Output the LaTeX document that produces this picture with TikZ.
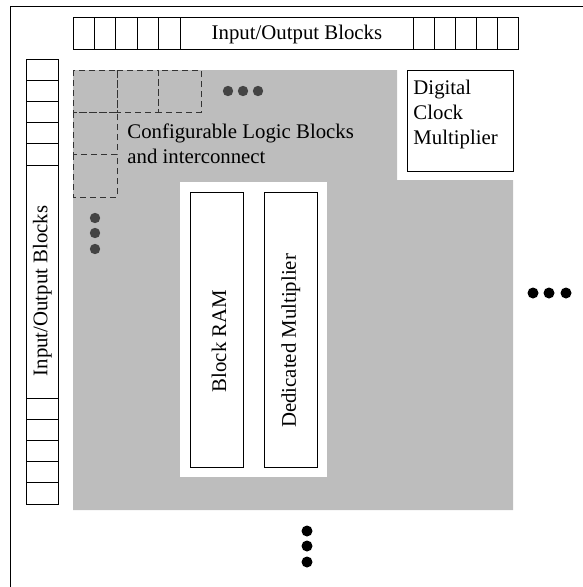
\documentclass[tikz,border=0pt]{standalone}
\usepackage{fontspec}
\setmainfont{Liberation Serif}
\definecolor{fpgagray}{RGB}{189,189,189}
\definecolor{dotgray}{RGB}{68,68,68}
\begin{document}
\begin{tikzpicture}[x=1pt,y=-1pt,line width=0.9pt,
  txt/.style={font=\fontsize{20.8}{25}\selectfont,inner sep=0pt},
  box/.style={draw,line width=0.9pt,inner sep=0pt,anchor=north west},
  clb/.style={draw=black!80,dash pattern=on 6pt off 4pt,line width=1pt},
  dotc/.style={fill=dotgray,draw=none},
  dotk/.style={fill=black,draw=none}]
\useasboundingbox (0,0) rectangle (582,587);
% outer frame
\draw (10,600) -- (10,6) -- (600,6);
% gray fabric
\fill[fpgagray] (73,70) -- (397,70) -- (397,180) -- (513,180) -- (513,510) -- (73,510) -- cycle;
% top IO blocks
\foreach \i in {0,...,4} \draw (73+\i*21.4,17) rectangle ++(21.4,32);
\foreach \i in {0,...,4} \draw (413+\i*21,17) rectangle ++(21,32);
\node[box,minimum width=233pt,minimum height=32pt] (topio) at (180,17) {};
\node[txt] (topiotext) at ([yshift=-1pt]topio.center) {Input/Output Blocks};
% left IO blocks
\foreach \i in {0,...,4} \draw (26,59+\i*21.2) rectangle ++(32,21.2);
\foreach \i in {0,...,4} \draw (26,398+\i*21.2) rectangle ++(32,21.2);
\node[box,minimum width=32pt,minimum height=233pt] (leftio) at (26,165) {};
\node[txt,rotate=90] (leftiotext) at ([yshift=-9pt]leftio.center) {Input/Output Blocks};
% CLB dashed squares
\draw[clb] (73,70) rectangle (117,112);
\draw[clb] (117,70) rectangle (158,112);
\draw[clb] (158,70) rectangle (201,112);
\draw[clb] (73,112) rectangle (117,154);
\draw[clb] (73,154) rectangle (117,197);
\node[txt,anchor=west,align=left] (clbtext) at (127,144) {Configurable Logic Blocks\\and interconnect};
% CLB dots
\foreach \x in {228,243,258} \fill[dotc] (\x,91) circle (5.2);
\foreach \y in {218,233,249} \fill[dotc] (95,\y) circle (5.2);
% DCM
\node[box,fill=white,minimum width=106pt,minimum height=101pt] (dcm) at (407,70) {};
\node[txt,anchor=north west,align=left] (dcmtext) at (413,80) {Digital\\Clock\\Multiplier};
% white area with block RAM and multiplier
\fill[white] (180,182) rectangle (327,477);
\node[box,minimum width=53pt,minimum height=275pt] (bram) at (190,192) {};
\node[txt,rotate=90] (bramtext) at ([xshift=2pt,yshift=-11pt]bram.center) {Block RAM};
\node[box,minimum width=53pt,minimum height=275pt] (dmul) at (264,192) {};
\node[txt,rotate=90] (dmultext) at ([yshift=-11pt]dmul.center) {Dedicated Multiplier};
% continuation dots
\foreach \x in {533,549,566} \fill[dotk] (\x,293) circle (5.5);
\foreach \y in {531,546,562} \fill[dotk] (307,\y) circle (5.5);
\end{tikzpicture}
\end{document}
